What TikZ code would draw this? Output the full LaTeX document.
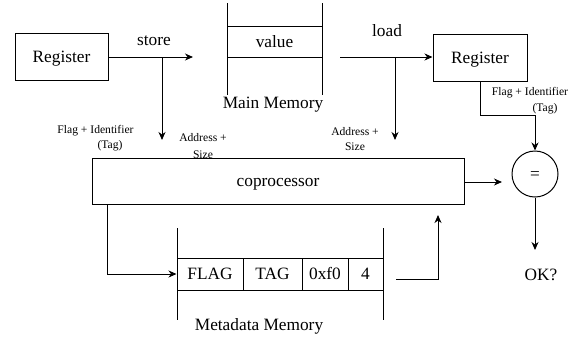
\documentclass[tikz,border=0pt]{standalone}
\usepackage{fontspec}
\setmainfont{Liberation Serif}
\usetikzlibrary{arrows.meta}
\tikzset{
  big/.style={font=\fontsize{17.3}{20}\selectfont, text height=11.8pt, text depth=0.4pt},
  small/.style={font=\fontsize{11.6}{13}\selectfont, inner sep=0pt},
  box/.style={draw, line width=1pt, fill=white, big, inner sep=0pt},
  cell/.style={draw, line width=1pt, big, inner sep=0pt, minimum height=32pt},
  memline/.style={line width=1pt},
  conn/.style={line width=1pt, -{Stealth[length=8pt,width=7pt,inset=2.5pt]}},
  lbl/.style={big, inner sep=0pt},
}
\begin{document}
\begin{tikzpicture}[x=1pt,y=-1pt]
\useasboundingbox (0,0) rectangle (575,341);

% registers
\node[box, minimum width=93pt, minimum height=47pt] (regL) at (61.5,56.5) {Register};
\node[box, minimum width=94pt, minimum height=47pt] (regR) at (480,57.5) {Register};

% main memory
\draw[memline] (227,3) -- (227,95);
\draw[memline] (322,3) -- (322,95);
\node[box, minimum width=95pt, minimum height=31pt] (value) at (274.5,41.5) {value};
\node[lbl] (mainmem) at (273,103) {Main Memory};

% coprocessor
\node[box, minimum width=372pt, minimum height=46pt] (copro) at (278,181) {coprocessor};

% comparator
\node[draw, circle, line width=1pt, minimum size=46pt, inner sep=0pt, big] (cmp) at (535,174) {=};
\node[lbl] (ok) at (541,275) {OK?};

% metadata memory
\draw[memline] (177,228) -- (177,320);
\draw[memline] (383,228) -- (383,320);
\node[cell, minimum width=66pt] (flag) at (210,274) {FLAG};
\node[cell, minimum width=59pt] (tag) at (272.5,274) {TAG};
\node[cell, minimum width=46pt] (addr) at (325,274) {0xf0};
\node[cell, minimum width=35pt] (size) at (365.5,274) {4};
\node[lbl] (metamem) at (259,325) {Metadata Memory};

% free ends and bends
\coordinate (storeEnd) at (193,57);
\coordinate (storeFork) at (162,57);
\coordinate (storeDown) at (162,140);
\coordinate (loadStart) at (340,57);
\coordinate (loadFork) at (395,57);
\coordinate (loadDown) at (395,140);
\coordinate (tagBendA) at (480,115);
\coordinate (tagBendB) at (535,115);
\coordinate (coproOut) at (502,182);
\coordinate (okIn) at (535,250);
\coordinate (metaIn) at (107,274);
\coordinate (metaOut) at (396,279);
\coordinate (metaUp) at (438,279);
\coordinate (coproIn) at (438,215);

% store path
\draw[conn] (regL.east |- storeEnd) -- (storeEnd);
\draw[conn] (storeFork) -- (storeDown);
\node[lbl] (storeLbl) at (154,40) {store};

% load path
\draw[conn] (loadStart) -- (regR.west |- loadStart);
\draw[conn] (loadFork) -- (loadDown);
\node[lbl] (loadLbl) at (387,31) {load};

% tag from loaded register to comparator
\draw[conn] (regR.south) -- (tagBendA) -- (tagBendB) -- (cmp.north);

% coprocessor result to comparator, comparator result
\draw[conn] (copro.east |- coproOut) -- (coproOut);
\draw[conn] (cmp.south) -- (okIn);

% coprocessor to metadata memory and back
\draw[conn] (copro.south -| metaIn) -- (metaIn) -- (flag.west);
\draw[conn] (metaOut) -- (metaUp) -- (coproIn);

% small labels
\node[small] (fiL) at (95.5,131) {Flag + Identifier};
\node[small] (tgL) at (110,146) {(Tag)};
\node[small] (asL) at (203,138) {Address +};
\node[small] (szL) at (203,155) {Size};
\node[small] (asR) at (355,132) {Address +};
\node[small] (szR) at (355,147) {Size};
\node[small] (fiR) at (530,93) {Flag + Identifier};
\node[small] (tgR) at (545,109) {(Tag)};
\end{tikzpicture}
\end{document}
